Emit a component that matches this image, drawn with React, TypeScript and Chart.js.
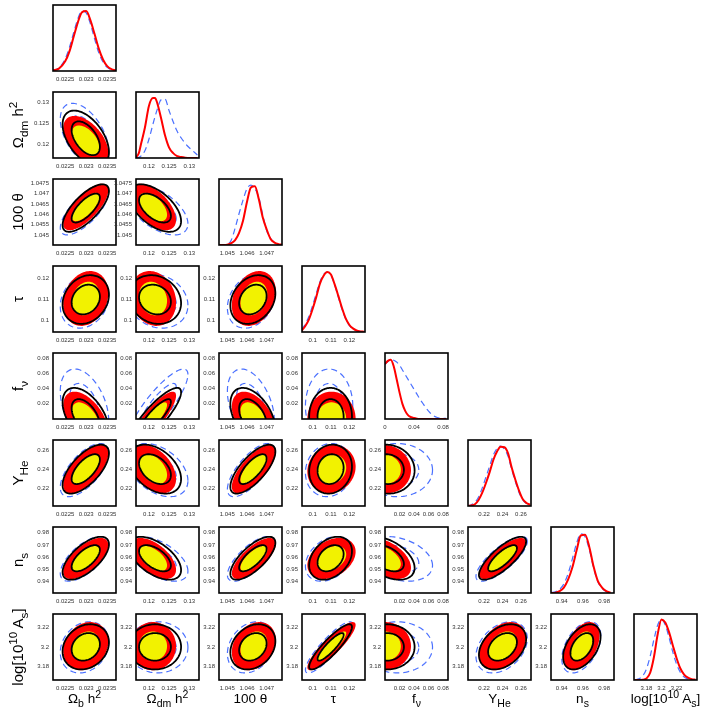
import React, { useEffect, useRef } from "react";
import { Chart, registerables } from "chart.js";

Chart.register(...registerables);

// ---------- axis ranges (per parameter) ----------
// 0 Ωb h², 1 Ωdm h², 2 100θ, 3 τ, 4 fν, 5 YHe, 6 ns, 7 log[10^10 As]
const xMin = [0.02221, 0.1168, 1.04458, 0.0942, 0, 0.2025, 0.9299, 3.1636];
const xMax = [0.02371, 0.1324, 1.04778, 0.1286, 0.0868, 0.2709, 0.9893, 3.247];
const yMin = [0, 0.1169, 1.04452, 0.0942, 0, 0.2014, 0.9304, 3.1668];
const yMax = [1, 0.1323, 1.0477, 0.1259, 0.0865, 0.2705, 0.9847, 3.2329];

const xTickValues = [
  [0.0225, 0.023, 0.0235],
  [0.12, 0.125, 0.13],
  [1.045, 1.046, 1.047],
  [0.1, 0.11, 0.12],
  [0.02, 0.04, 0.06, 0.08],
  [0.22, 0.24, 0.26],
  [0.94, 0.96, 0.98],
  [3.18, 3.2, 3.22],
];
const diagFnuTicks = [0, 0.04, 0.08];
const yTickValues = [
  [],
  [0.12, 0.125, 0.13],
  [1.045, 1.0455, 1.046, 1.0465, 1.047, 1.0475],
  [0.1, 0.11, 0.12],
  [0.02, 0.04, 0.06, 0.08],
  [0.22, 0.24, 0.26],
  [0.94, 0.95, 0.96, 0.97, 0.98],
  [3.18, 3.2, 3.22],
];

// ---------- 2D posterior summaries ----------
const meanFilled = [0.02299, 0.121, 1.04635, 0.1103, 0.0, 0.24, 0.9588, 3.2007];
const sigmaFilled = [0.000216, 0.0023, 0.00045, 0.0053, 0.0144, 0.0102, 0.0068, 0.0097];
const meanBlack = [0.02299, 0.1215, 1.0463, 0.1098, 0.003, 0.24, 0.959, 3.2];
const sigmaBlack = [0.000222, 0.0026, 0.00046, 0.0047, 0.0152, 0.0103, 0.0071, 0.0091];
const meanBlue = [0.02296, 0.1222, 1.0462, 0.109, 0.017, 0.239, 0.9585, 3.1995];
const sigmaBlue = [0.000232, 0.003, 0.00048, 0.0052, 0.0195, 0.0112, 0.0074, 0.0103];

// lower-triangular correlations [row][col]
const corrMain = [
  [],
  [-0.5],
  [0.72, -0.55],
  [0.2, -0.15, 0.25],
  [-0.5, 0.85, -0.45, 0.0],
  [0.65, -0.4, 0.72, 0.1, -0.05],
  [0.65, -0.55, 0.72, 0.33, -0.45, 0.78],
  [0.2, 0.0, 0.25, 0.88, 0.0, 0.35, 0.45],
];
const corrBlue = [
  [],
  [-0.5],
  [0.72, -0.55],
  [0.2, -0.15, 0.25],
  [-0.4, 0.85, -0.4, 0.0],
  [0.65, -0.4, 0.72, 0.1, 0.0],
  [0.65, -0.55, 0.72, 0.33, -0.3, 0.78],
  [0.2, 0.0, 0.25, 0.88, 0.0, 0.35, 0.45],
];
const chi2Levels = [2.3, 6.18]; // 68% and 95%

// ---------- 1D marginals ----------
const margGrid = [
  [0.0222, 0.02235, 0.0225, 0.0226, 0.0227, 0.0228, 0.0229, 0.023, 0.0231, 0.0232, 0.0233, 0.0234, 0.0235, 0.0236, 0.0237],
  [0.1168, 0.1175, 0.118, 0.119, 0.12, 0.121, 0.1215, 0.122, 0.123, 0.124, 0.125, 0.126, 0.127, 0.128, 0.129, 0.13, 0.131, 0.132],
  [1.0446, 1.0448, 1.045, 1.0452, 1.0454, 1.0456, 1.0458, 1.046, 1.0462, 1.0464, 1.0466, 1.0468, 1.047, 1.0472, 1.0474, 1.0476, 1.0478],
  [0.094, 0.096, 0.098, 0.1, 0.102, 0.104, 0.106, 0.108, 0.11, 0.112, 0.114, 0.116, 0.118, 0.12, 0.122, 0.124, 0.126, 0.128],
  [0, 0.004, 0.008, 0.012, 0.016, 0.02, 0.024, 0.028, 0.032, 0.036, 0.04, 0.044, 0.048, 0.052, 0.056, 0.06, 0.064, 0.068, 0.072, 0.076, 0.08, 0.084],
  [0.202, 0.206, 0.21, 0.214, 0.218, 0.222, 0.226, 0.23, 0.234, 0.238, 0.242, 0.246, 0.25, 0.254, 0.258, 0.262, 0.266, 0.27],
  [0.93, 0.934, 0.938, 0.942, 0.946, 0.95, 0.954, 0.958, 0.962, 0.966, 0.97, 0.974, 0.978, 0.982, 0.986],
  [3.165, 3.17, 3.175, 3.18, 3.185, 3.19, 3.195, 3.2, 3.205, 3.21, 3.215, 3.22, 3.225, 3.23, 3.235, 3.24, 3.245],
];
const margRed = [
  [0.01, 0.04, 0.16, 0.32, 0.56, 0.8, 0.97, 0.99, 0.84, 0.61, 0.37, 0.19, 0.08, 0.03, 0.01],
  [0.01, 0.08, 0.22, 0.5, 0.86, 0.99, 0.99, 0.92, 0.66, 0.37, 0.17, 0.08, 0.03, 0.015, 0.005, 0, 0, 0],
  [0, 0, 0.005, 0.03, 0.08, 0.2, 0.4, 0.71, 0.95, 0.97, 0.76, 0.46, 0.26, 0.1, 0.04, 0.015, 0.005],
  [0.02, 0.1, 0.21, 0.38, 0.58, 0.8, 0.93, 0.99, 0.95, 0.79, 0.6, 0.4, 0.23, 0.12, 0.06, 0.025, 0.01, 0.005],
  [0.91, 0.96, 0.98, 0.87, 0.66, 0.44, 0.25, 0.13, 0.06, 0.03, 0.015, 0.005, 0, 0, 0, 0, 0, 0, 0, 0, 0, 0],
  [0, 0.01, 0.03, 0.1, 0.22, 0.38, 0.56, 0.76, 0.9, 0.98, 0.97, 0.87, 0.63, 0.43, 0.25, 0.11, 0.05, 0.02],
  [0, 0.005, 0.03, 0.09, 0.22, 0.42, 0.7, 0.95, 0.96, 0.76, 0.44, 0.2, 0.09, 0.03, 0.005],
  [0, 0, 0.003, 0.024, 0.12, 0.38, 0.76, 1.0, 0.95, 0.79, 0.57, 0.36, 0.19, 0.09, 0.04, 0.015, 0.005],
];
const margBlue = [
  [0.01, 0.05, 0.2, 0.39, 0.63, 0.86, 0.99, 0.96, 0.78, 0.53, 0.3, 0.15, 0.06, 0.02, 0.01],
  [0, 0.01, 0.03, 0.12, 0.31, 0.56, 0.68, 0.79, 0.96, 0.97, 0.78, 0.6, 0.44, 0.33, 0.24, 0.17, 0.11, 0.05],
  [0, 0, 0.01, 0.08, 0.28, 0.52, 0.74, 0.93, 0.99, 0.93, 0.79, 0.5, 0.24, 0.11, 0.04, 0.01, 0],
  [0.04, 0.13, 0.26, 0.44, 0.64, 0.83, 0.95, 0.99, 0.94, 0.78, 0.58, 0.38, 0.22, 0.11, 0.05, 0.02, 0.01, 0],
  [0.9, 0.95, 0.98, 0.97, 0.94, 0.89, 0.81, 0.73, 0.65, 0.57, 0.49, 0.41, 0.33, 0.26, 0.19, 0.13, 0.08, 0.045, 0.025, 0.015, 0.01, 0.01],
  [0, 0.02, 0.06, 0.15, 0.3, 0.48, 0.66, 0.84, 0.95, 0.99, 0.94, 0.82, 0.6, 0.4, 0.22, 0.1, 0.04, 0.01],
  [0.005, 0.02, 0.06, 0.15, 0.32, 0.56, 0.82, 0.98, 0.93, 0.72, 0.42, 0.19, 0.08, 0.025, 0.005],
  [0.004, 0.019, 0.066, 0.18, 0.39, 0.67, 0.91, 1.0, 0.91, 0.7, 0.46, 0.26, 0.125, 0.05, 0.018, 0.005, 0.001],
];
const densityMax = 1.09;

// ---------- styling / layout ----------
const RED = "#ff0000";
const YELLOW = "#f2f200";
const BLUE = "#4a70ff";
const DASH = [6, 4];
const TICK_FONT = '"Liberation Sans", Arial, Helvetica, sans-serif';
const PANEL_W = 63;
const PANEL_H = 66;
const PITCH_X = 83;
const PITCH_Y = 87;
const ORIGIN_X = 53;
const ORIGIN_Y = 5;
const PAD_L = 40;
const PAD_R = 14;
const PAD_T = 6;
const PAD_B = 18;
const CANVAS_W = PAD_L + PANEL_W + PAD_R;
const CANVAS_H = PAD_T + PANEL_H + PAD_B;

const contourPlugin = {
  id: "contours",
  beforeDatasetsDraw(chart: any, _args: any, opts: any) {
    if (!opts || opts.row == null || opts.row < 0) return;
    const r = opts.row as number;
    const c = opts.col as number;
    const xs = chart.scales.x;
    const ys = chart.scales.y;
    const ctx = chart.ctx as CanvasRenderingContext2D;
    const a = chart.chartArea;
    ctx.save();
    ctx.beginPath();
    ctx.rect(a.left, a.top, a.right - a.left, a.bottom - a.top);
    ctx.clip();
    const trace = (mean: number[], sig: number[], rho: number, chi2: number) => {
      const k = Math.sqrt(chi2);
      const n = 120;
      ctx.beginPath();
      for (let t = 0; t <= n; t++) {
        const ang = (t / n) * Math.PI * 2;
        const u = Math.cos(ang);
        const v = Math.sin(ang);
        const px = xs.getPixelForValue(mean[c] + k * sig[c] * u);
        const py = ys.getPixelForValue(
          mean[r] + k * sig[r] * (rho * u + Math.sqrt(1 - rho * rho) * v)
        );
        if (t === 0) ctx.moveTo(px, py);
        else ctx.lineTo(px, py);
      }
      ctx.closePath();
    };
    ctx.setLineDash(DASH);
    ctx.lineWidth = 1.2;
    ctx.strokeStyle = BLUE;
    for (const q of chi2Levels) {
      trace(meanBlue, sigmaBlue, corrBlue[r][c], q);
      ctx.stroke();
    }
    ctx.setLineDash([]);
    trace(meanFilled, sigmaFilled, corrMain[r][c], chi2Levels[1]);
    ctx.fillStyle = RED;
    ctx.fill();
    trace(meanFilled, sigmaFilled, corrMain[r][c], chi2Levels[0]);
    ctx.fillStyle = YELLOW;
    ctx.fill();
    ctx.lineWidth = 1.8;
    ctx.strokeStyle = "#000";
    for (const q of chi2Levels) {
      trace(meanBlack, sigmaBlack, corrMain[r][c], q);
      ctx.stroke();
    }
    ctx.restore();
  },
  afterDraw(chart: any) {
    const a = chart.chartArea;
    const ctx = chart.ctx as CanvasRenderingContext2D;
    ctx.save();
    ctx.lineWidth = 1.6;
    ctx.strokeStyle = "#000";
    ctx.strokeRect(a.left, a.top, a.right - a.left, a.bottom - a.top);
    ctx.restore();
  },
};

function axis(min: number, max: number, ticks: number[], dir: "x" | "y", showLabels = true) {
  return {
    type: "linear",
    position: dir === "x" ? "bottom" : "left",
    min,
    max,
    grid: { display: false, drawTicks: false },
    border: { display: false },
    ticks: {
      display: showLabels,
      autoSkip: false,
      maxRotation: 0,
      minRotation: 0,
      padding: dir === "x" ? 5 : 4,
      color: "#333",
      font: { size: 6, family: TICK_FONT },
      callback: (_v: any, i: number) => String(ticks[i]),
    },
    afterBuildTicks: (s: any) => {
      s.ticks = ticks.map((v) => ({ value: v }));
    },
    afterFit: (s: any) => {
      if (dir === "x") s.height = PAD_B;
      else s.width = PAD_L;
      s.paddingLeft = 0;
      s.paddingRight = 0;
      s.paddingTop = 0;
      s.paddingBottom = 0;
    },
  };
}

function makeConfig(r: number, c: number): any {
  const diag = r === c;
  const xt = diag && c === 4 ? diagFnuTicks : xTickValues[c];
  const datasets = diag
    ? [
        {
          data: margGrid[c].map((x, k) => ({ x, y: margRed[c][k] })),
          borderColor: RED,
          borderWidth: 2,
          pointRadius: 0,
          fill: false,
          cubicInterpolationMode: "monotone",
        },
        {
          data: margGrid[c].map((x, k) => ({ x, y: margBlue[c][k] })),
          borderColor: BLUE,
          borderWidth: 1.2,
          borderDash: DASH,
          pointRadius: 0,
          fill: false,
          cubicInterpolationMode: "monotone",
        },
      ]
    : [];
  return {
    type: "line",
    data: { datasets },
    options: {
      responsive: false,
      animation: false,
      devicePixelRatio: 1,
      events: [],
      layout: { padding: { left: 0, right: PAD_R, top: PAD_T, bottom: 0 } },
      plugins: {
        legend: { display: false },
        tooltip: { enabled: false },
        contours: diag ? { row: -1, col: -1 } : { row: r, col: c },
      },
      scales: {
        x: axis(xMin[c], xMax[c], xt, "x"),
        y: diag
          ? axis(0, densityMax, [], "y", false)
          : axis(yMin[r], yMax[r], yTickValues[r], "y"),
      },
    },
    plugins: [contourPlugin],
  };
}

const panels: { r: number; c: number }[] = [];
for (let r = 0; r < 8; r++) for (let c = 0; c <= r; c++) panels.push({ r, c });

const subS = (t: string) => (
  <span style={{ fontSize: "0.78em", position: "relative", top: "0.4em" }}>{t}</span>
);
const supS = (t: string) => (
  <span style={{ fontSize: "0.78em", position: "relative", top: "-0.5em" }}>{t}</span>
);

function title(k: number) {
  switch (k) {
    case 0:
      return <>Ω{subS("b")} h{supS("2")}</>;
    case 1:
      return <>Ω{subS("dm")} h{supS("2")}</>;
    case 2:
      return <>100 θ</>;
    case 3:
      return <>τ</>;
    case 4:
      return <>f{subS("ν")}</>;
    case 5:
      return <>Y{subS("He")}</>;
    case 6:
      return <>n{subS("s")}</>;
    default:
      return <>log[10{supS("10")} A{subS("s")}]</>;
  }
}

const TITLE_FONT = '"Liberation Sans", Arial, Helvetica, sans-serif';

export default function App() {
  const refs = useRef<(HTMLCanvasElement | null)[]>([]);
  useEffect(() => {
    const charts: Chart[] = [];
    panels.forEach((p, idx) => {
      const cv = refs.current[idx];
      if (!cv) return;
      charts.push(new Chart(cv, makeConfig(p.r, p.c)));
    });
    return () => charts.forEach((ch) => ch.destroy());
  }, []);

  return (
    <div
      style={{
        position: "absolute",
        left: 0,
        top: 0,
        width: 706,
        height: 716,
        background: "#fff",
        overflow: "hidden",
        fontFamily: TITLE_FONT,
        color: "#000",
      }}
    >
      {panels.map((p, idx) => (
        <canvas
          key={`${p.r}-${p.c}`}
          ref={(el) => {
            refs.current[idx] = el;
          }}
          width={CANVAS_W}
          height={CANVAS_H}
          style={{
            position: "absolute",
            left: ORIGIN_X + PITCH_X * p.c - PAD_L,
            top: ORIGIN_Y + PITCH_Y * p.r - PAD_T,
            width: CANVAS_W,
            height: CANVAS_H,
          }}
        />
      ))}
      {[0, 1, 2, 3, 4, 5, 6, 7].map((k) => (
        <div
          key={`xt${k}`}
          style={{
            position: "absolute",
            left: ORIGIN_X + PITCH_X * k + PANEL_W / 2 - 60,
            top: 691,
            width: 120,
            height: 16,
            lineHeight: "16px",
            textAlign: "center",
            whiteSpace: "nowrap",
            fontSize: 13.5,
          }}
        >
          {title(k)}
        </div>
      ))}
      {[1, 2, 3, 4, 5, 6, 7].map((k) => (
        <div
          key={`yt${k}`}
          style={{
            position: "absolute",
            left: 18 - 60,
            top: ORIGIN_Y + PITCH_Y * k + PANEL_H / 2 - 8,
            width: 120,
            height: 16,
            lineHeight: "16px",
            textAlign: "center",
            whiteSpace: "nowrap",
            fontSize: 15,
            transform: "rotate(-90deg)",
          }}
        >
          {title(k)}
        </div>
      ))}
    </div>
  );
}
